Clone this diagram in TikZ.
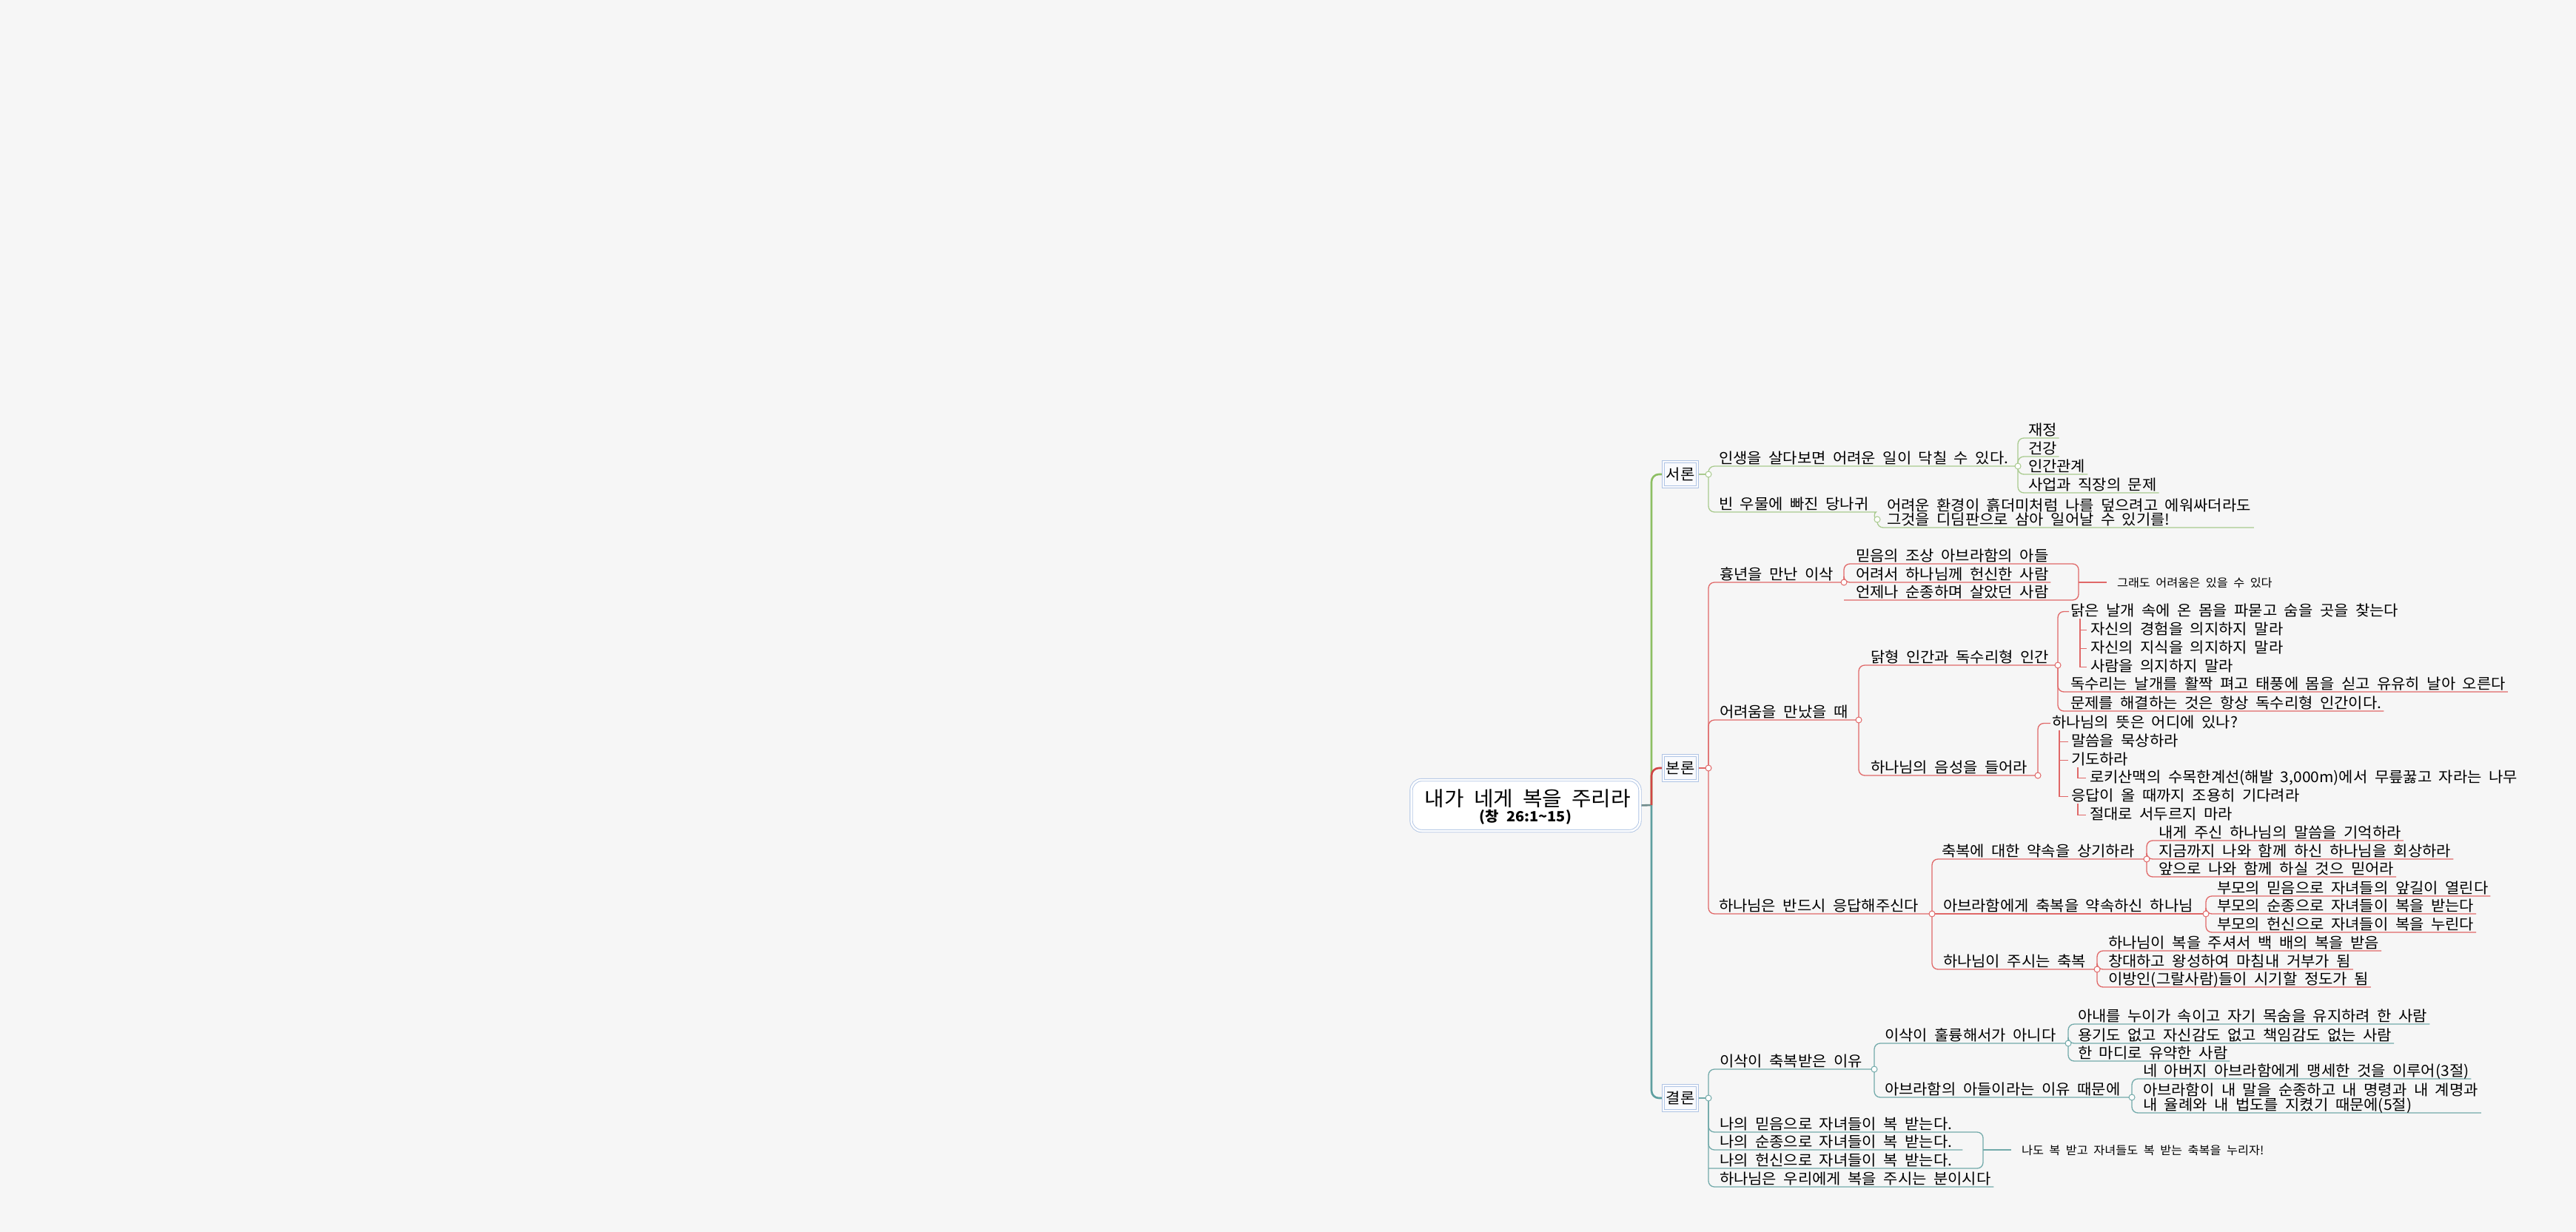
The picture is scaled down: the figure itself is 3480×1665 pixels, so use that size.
\documentclass[tikz,border=0pt]{standalone}
\usepackage{fontspec}
\setmainfont{Noto Sans CJK KR}[FakeStretch=1.05]
\usetikzlibrary{calc,backgrounds}
\definecolor{bgc}{HTML}{F6F6F6}
\definecolor{gtrunk}{HTML}{8DBF63}
\definecolor{gline}{HTML}{A9CA8E}
\definecolor{rtrunk}{HTML}{D04545}
\definecolor{rline}{HTML}{E06868}
\definecolor{ttrunk}{HTML}{5E9FA0}
\definecolor{tline}{HTML}{72AAAA}
\definecolor{rootln}{HTML}{708C8C}
\definecolor{boxblue}{HTML}{AFC4E4}
\definecolor{boxfill}{HTML}{F9FAFD}
\newcommand\tpf{\fontsize{20}{23}\selectfont\spaceskip=9.5pt\relax}
\newcommand\smf{\fontsize{15.5}{18}\selectfont\spaceskip=7.5pt\relax}
\newcommand\ttf{\fontsize{27.5}{30}\selectfont\spaceskip=13pt\relax}
\newcommand\stf{\fontsize{19}{24}\selectfont\bfseries\spaceskip=10pt\relax}
\begin{document}
\begin{tikzpicture}[x=1pt,y=-1pt,
  tp/.style={inner sep=0pt, outer sep=0pt, anchor=south west, text height=15pt, text depth=4pt, font=\tpf},
  trn/.style={inner sep=0pt, outer sep=0pt, anchor=base west, text height=15pt, text depth=4pt, font=\tpf},
  smtxt/.style={inner sep=0pt, outer sep=0pt, anchor=base west, text height=12pt, text depth=3pt, font=\smf},
  knob/.style={circle, draw=#1, fill=white, line width=1pt, inner sep=0pt, minimum size=8pt},
  lineg/.style={draw=gline, line width=1.3pt, rounded corners=8pt},
  liner/.style={draw=rline, line width=1.3pt, rounded corners=8pt},
  linet/.style={draw=tline, line width=1.3pt, rounded corners=8pt},
  secbox/.style={draw=boxblue, double=boxfill, double distance=2.5pt, line width=0.9pt, fill=boxfill, minimum width=46pt, minimum height=34pt, inner sep=0pt, font=\tpf},
  trunk/.style={line width=2.6pt, rounded corners=10pt}
]
\begin{scope}[on background layer]
\fill[bgc] (0,0) rectangle (3480,1665);
\end{scope}
\useasboundingbox (0,0) rectangle (3480,1665);

% root
\node[draw=boxblue, double=white, double distance=2.5pt, line width=0.9pt, fill=white, rounded corners=14pt, minimum width=309pt, minimum height=69pt, inner sep=0pt] (root) at (2061,1088.5) {};
\node[inner sep=0pt, anchor=base, font=\ttf] (rtitle) at (2064,1089) {내가 네게 복을 주리라};
\node[inner sep=0pt, anchor=base, font=\stf] (rsub) at (2061,1110) {(창 26:1\textasciitilde 15)};
\coordinate (trk) at (2231,1088);

% sections
\node[secbox] (seo) at (2270,641) {서론};
\node[secbox] (bon) at (2270,1038) {본론};
\node[secbox] (gyeol) at (2270,1484) {결론};
\node[knob=gline] (c1) at (2308,641) {};
\node[knob=rline] (c2) at (2308,1038) {};
\node[knob=tline] (c3) at (2308,1484) {};

% ---- 서론
\node[tp] (t11) at (2322,630) {인생을 살다보면 어려운 일이 닥칠 수 있다.};
\node[knob=gline] (c11) at (2726,630) {};
\node[tp] (t111) at (2740,592) {재정};
\node[tp] (t112) at (2740,617) {건강};
\node[tp] (t113) at (2740,641) {인간관계};
\node[tp] (t114) at (2740,666) {사업과 직장의 문제};
\node[tp] (t12) at (2322,692) {빈 우물에 빠진 당나귀};
\node[knob=gline] (c12) at (2536,702) {};
\node[tp] (t121a) at (2549,694) {어려운 환경이 흙더미처럼 나를 덮으려고 에워싸더라도};
\node[tp] (t121b) at (2549,713) {그것을 디딤판으로 삼아 일어날 수 있기를!};

% ---- 본론
\node[tp] (t21) at (2323,787) {흉년을 만난 이삭};
\node[knob=rline] (c21) at (2491,787) {};
\node[tp] (t211) at (2507,762) {믿음의 조상 아브라함의 아들};
\node[tp] (t212) at (2507,787) {어려서 하나님께 헌신한 사람};
\node[tp] (t213) at (2507,811) {언제나 순종하며 살았던 사람};
\coordinate (sb21) at (2808,787);
\node[smtxt] (s21) at (2860,793) {그래도 어려움은 있을 수 있다};

\node[tp] (t22) at (2323,973) {어려움을 만났을 때};
\node[knob=rline] (c22) at (2511,973) {};
\node[tp] (t221) at (2527,899) {닭형 인간과 독수리형 인간};
\node[knob=rline] (c221) at (2780,899) {};
\node[trn] (t2211) at (2797,832) {닭은 날개 속에 온 몸을 파묻고 숨을 곳을 찾는다};
\node[trn] (t22111) at (2824,857) {자신의 경험을 의지하지 말라};
\node[trn] (t22112) at (2824,882) {자신의 지식을 의지하지 말라};
\node[trn] (t22113) at (2824,907) {사람을 의지하지 말라};
\node[tp] (t2212) at (2797,935) {독수리는 날개를 활짝 펴고 태풍에 몸을 싣고 유유히 날아 오른다};
\node[tp] (t2213) at (2797,961) {문제를 해결하는 것은 항상 독수리형 인간이다.};

\node[tp] (t222) at (2527,1048) {하나님의 음성을 들어라};
\node[knob=rline] (c222) at (2753,1048) {};
\node[trn] (t2221) at (2772,983) {하나님의 뜻은 어디에 있나?};
\node[trn] (t22211) at (2798,1008) {말씀을 묵상하라};
\node[trn] (t22212) at (2798,1033) {기도하라};
\node[trn] (t222121) at (2823,1057) {로키산맥의 수목한계선(해발 3,000m)에서 무릎꿇고 자라는 나무};
\node[trn] (t22213) at (2798,1082) {응답이 올 때까지 조용히 기다려라};
\node[trn] (t222131) at (2823,1107) {절대로 서두르지 마라};

\node[tp] (t23) at (2322,1235) {하나님은 반드시 응답해주신다};
\node[knob=rline] (c23) at (2610,1235) {};
\node[tp] (t231) at (2623,1161) {축복에 대한 약속을 상기하라};
\node[knob=rline] (c231) at (2900,1161) {};
\node[tp] (t2311) at (2916,1136) {내게 주신 하나님의 말씀을 기억하라};
\node[tp] (t2312) at (2916,1161) {지금까지 나와 함께 하신 하나님을 회상하라};
\node[tp] (t2313) at (2916,1185) {앞으로 나와 함께 하실 것으 믿어라};
\node[tp] (t232) at (2625,1235) {아브라함에게 축복을 약속하신 하나님};
\node[knob=rline] (c232) at (2980,1235) {};
\node[tp] (t2321) at (2995,1211) {부모의 믿음으로 자녀들의 앞길이 열린다};
\node[tp] (t2322) at (2995,1235) {부모의 순종으로 자녀들이 복을 받는다};
\node[tp] (t2323) at (2995,1260) {부모의 헌신으로 자녀들이 복을 누린다};
\node[tp] (t233) at (2625,1310) {하나님이 주시는 축복};
\node[knob=rline] (c233) at (2833,1310) {};
\node[tp] (t2331) at (2848,1285) {하나님이 복을 주셔서 백 배의 복을 받음};
\node[tp] (t2332) at (2848,1310) {창대하고 왕성하여 마침내 거부가 됨};
\node[tp] (t2333) at (2848,1334) {이방인(그랄사람)들이 시기할 정도가 됨};

% ---- 결론
\node[tp] (t31) at (2323,1445) {이삭이 축복받은 이유};
\node[knob=tline] (c31) at (2532,1445) {};
\node[tp] (t311) at (2546,1410) {이삭이 훌륭해서가 아니다};
\node[knob=tline] (c311) at (2794,1410) {};
\node[tp] (t3111) at (2807,1384) {아내를 누이가 속이고 자기 목숨을 유지하려 한 사람};
\node[tp] (t3112) at (2807,1410) {용기도 없고 자신감도 없고 책임감도 없는 사람};
\node[tp] (t3113) at (2807,1434) {한 마디로 유약한 사람};
\node[tp] (t312) at (2546,1483) {아브라함의 아들이라는 이유 때문에};
\node[knob=tline] (c312) at (2880,1483) {};
\node[tp] (t3121) at (2895,1458) {네 아버지 아브라함에게 맹세한 것을 이루어(3절)};
\node[tp] (t3122a) at (2895,1484) {아브라함이 내 말을 순종하고 내 명령과 내 계명과};
\node[tp] (t3122b) at (2895,1504) {내 율례와 내 법도를 지켰기 때문에(5절)};
\node[tp] (t32) at (2323,1530) {나의 믿음으로 자녀들이 복 받는다.};
\node[tp] (t33) at (2323,1554) {나의 순종으로 자녀들이 복 받는다.};
\node[tp] (t34) at (2323,1579) {나의 헌신으로 자녀들이 복 받는다.};
\node[tp] (t35) at (2323,1604) {하나님은 우리에게 복을 주시는 분이시다};
\coordinate (sb3) at (2679,1554);
\node[smtxt] (s3) at (2731,1560) {나도 복 받고 자녀들도 복 받는 축복을 누리자!};

\begin{scope}[on background layer]
% trunk
\draw[rootln, line width=2.6pt] (root.east) -- (trk);
\draw[gtrunk, trunk] (trk) |- (seo.west);
\draw[ttrunk, trunk] (trk) |- (gyeol.west);
\draw[rtrunk, trunk] (trk) |- (bon.west);
\draw[gline, line width=1.3pt] (seo.east) -- (c1.center);
\draw[rline, line width=1.3pt] (bon.east) -- (c2.center);
\draw[tline, line width=1.3pt] (gyeol.east) -- (c3.center);

% 서론
\draw[lineg] (c1.center) |- (c11.center);
\draw[lineg] (c1.center) |- ($(t12.south east)+(2,0)$) to[out=0,in=180] (c12.center);
\foreach \n in {t111,t112,t113,t114} \draw[lineg] (c11.center) |- ($(\n.south east)+(3,0)$);
\draw[lineg] (c12.center) |- ($(t121a.east |- t121b.south)+(4,0)$);

% 본론
\draw[liner] (c2.center) |- (c21.center);
\draw[liner] (c2.center) |- (c22.center);
\draw[liner] (c2.center) |- (c23.center);
\draw[liner] (c21.center) |- (t211.south east) -| (sb21) |- (t213.south east) -- (c21.center |- t213.south);
\draw[liner] (c21.center) |- ($(t212.south east)+(3,0)$);
\draw[liner, shorten >=14pt] (sb21) -- (sb21 -| s21.west);

\draw[liner] (c22.center) |- (c221.center);
\draw[liner] (c22.center) |- (c222.center);
\draw[liner] (c221.center) |- ($(t2211.west)+(-2,0)$);
\draw[liner] (c221.center) |- ($(t2212.south east)+(3,0)$);
\draw[liner] (c221.center) |- ($(t2213.south east)+(3,0)$);
\foreach \n in {t22111,t22112,t22113} \draw[liner, rounded corners=0pt] ($(t2211.south west)+(13,0)$) |- ($(\n.west)+(-5,0)$);
\draw[liner] (c222.center) |- ($(t2221.west)+(-2,0)$);
\foreach \n in {t22211,t22212,t22213} \draw[liner, rounded corners=0pt] ($(t2221.south west)+(10,0)$) |- ($(\n.west)+(-4,0)$);
\draw[liner, rounded corners=0pt] ($(t22212.south west)+(9,0)$) |- ($(t222121.west)+(-5,0)$);
\draw[liner, rounded corners=0pt] ($(t22213.south west)+(9,0)$) |- ($(t222131.west)+(-5,0)$);

\draw[liner] (c23.center) |- (c231.center);
\draw[liner] (c23.center) |- (c233.center);
\draw[liner] (c23.center) -- (c232.center);
\foreach \n in {t2311,t2312,t2313} \draw[liner] (c231.center) |- ($(\n.south east)+(3,0)$);
\foreach \n in {t2321,t2322,t2323} \draw[liner] (c232.center) |- ($(\n.south east)+(3,0)$);
\foreach \n in {t2331,t2332,t2333} \draw[liner] (c233.center) |- ($(\n.south east)+(3,0)$);

% 결론
\draw[linet] (c3.center) |- (c31.center);
\draw[linet] (c31.center) |- (c311.center);
\draw[linet] (c31.center) |- (c312.center);
\foreach \n in {t3111,t3112,t3113} \draw[linet] (c311.center) |- ($(\n.south east)+(3,0)$);
\draw[linet] (c312.center) |- ($(t3121.south east)+(3,0)$);
\draw[linet] (c312.center) |- ($(t3122a.east |- t3122b.south)+(4,0)$);
\draw[linet] (c3.center) |- (t32.south east) -| (sb3) |- (t34.south east) -- (c3.center |- t34.south);
\draw[linet] (c3.center) |- ($(t33.south east)+(14,0)$);
\draw[linet] (c3.center) |- ($(t35.south east)+(4,0)$);
\draw[linet, shorten >=14pt] (sb3) -- (sb3 -| s3.west);
\end{scope}
\end{tikzpicture}
\end{document}
